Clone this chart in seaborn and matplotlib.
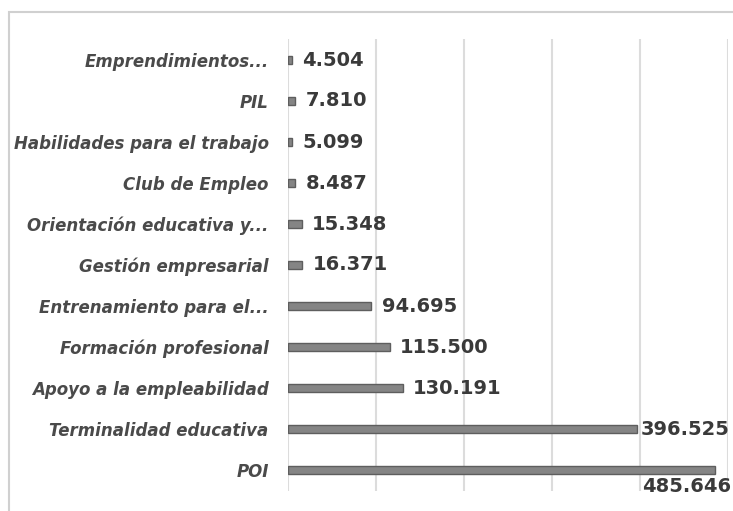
import matplotlib
matplotlib.use('Agg')
import matplotlib.pyplot as plt
import seaborn as sns
import pandas as pd
from matplotlib.patches import Rectangle

# Datos
programas = ['Emprendimientos...', 'PIL', 'Habilidades para el trabajo', 'Club de Empleo',
             'Orientación educativa y...', 'Gestión empresarial', 'Entrenamiento para el...',
             'Formación profesional', 'Apoyo a la empleabilidad', 'Terminalidad educativa', 'POI']
valores = [4504, 7810, 5099, 8487, 15348, 16371, 94695, 115500, 130191, 396525, 485646]
etiquetas = ['4.504', '7.810', '5.099', '8.487', '15.348', '16.371', '94.695',
             '115.500', '130.191', '396.525', '485.646']

df = pd.DataFrame({'programa': programas, 'valor': valores})

sns.set_style('white')
plt.rcParams['font.family'] = ['DejaVu Sans']

fig = plt.figure(figsize=(7.33, 5.11), dpi=100)
ax = fig.add_axes([288 / 733, 1 - 490.5 / 511, 440 / 733, 451 / 511])

sns.barplot(data=df, y='programa', x='valor', color='#858585', width=0.2,
            edgecolor='#5e5e5e', linewidth=1.0, ax=ax)

ax.set_xlim(0, 500000)
ax.set_xticks([0, 100000, 200000, 300000, 400000, 500000])
ax.xaxis.grid(True, color='#dcdcdc', linewidth=1.5)
ax.set_axisbelow(True)
ax.tick_params(axis='x', length=0, labelbottom=False)
ax.tick_params(axis='y', length=0, pad=14)
for s in ax.spines.values():
    s.set_visible(False)
ax.set_xlabel('')
ax.set_ylabel('')

for lab in ax.get_yticklabels():
    lab.set_fontstyle('oblique')
    lab.set_fontweight('bold')
    lab.set_fontsize(12)
    lab.set_color('#4a4a4a')

# Etiquetas de valor
for i, (v, t) in enumerate(zip(valores, etiquetas)):
    if t == '485.646':
        xy_off, ha = (11.5, -12), 'right'
    elif t == '396.525':
        xy_off, ha = (2.5, 0), 'left'
    else:
        xy_off, ha = (7.5, 0), 'left'
    ax.annotate(t, (v, i), xytext=xy_off, textcoords='offset points',
                ha=ha, va='center', fontsize=14, fontweight='bold',
                color='#3a3a3a', annotation_clip=False)

# Marco del gráfico
fig.patches.append(Rectangle((9 / 733, -0.05), 1.0, 1 - 12 / 511 + 0.05,
                             transform=fig.transFigure, fill=False,
                             edgecolor='#d0d0d0', linewidth=1.5))

plt.savefig('out.png', dpi=100)
